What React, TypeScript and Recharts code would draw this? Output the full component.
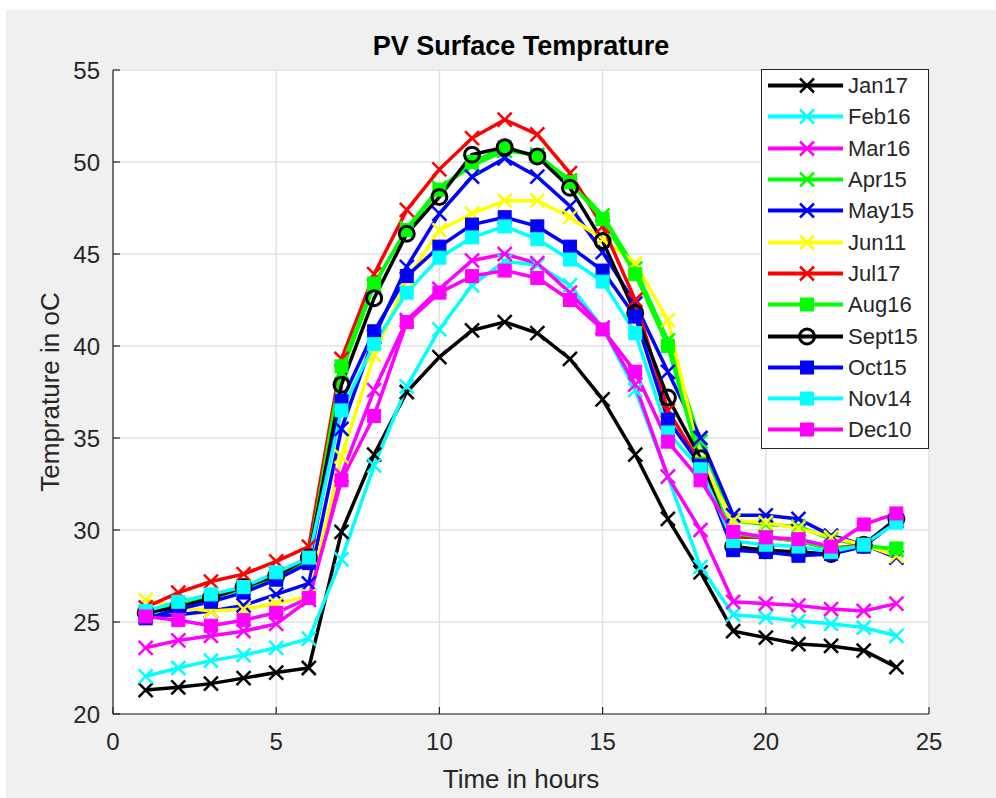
import React from 'react';
import { LineChart, Line, XAxis, YAxis, CartesianGrid, Legend, Label } from 'recharts';

const hours = [1, 2, 3, 4, 5, 6, 7, 8, 9, 10, 11, 12, 13, 14, 15, 16, 17, 18, 19, 20, 21, 22, 23, 24];

const jan17 = [21.3, 21.45, 21.65, 21.95, 22.25, 22.5, 29.9, 34.1, 37.5, 39.4, 40.85, 41.3, 40.7, 39.3, 37.1, 34.1, 30.6, 27.7, 24.5, 24.15, 23.8, 23.7, 23.45, 22.55];
const feb16 = [22.05, 22.5, 22.9, 23.2, 23.6, 24.1, 28.4, 33.5, 37.8, 40.9, 43.3, 44.6, 44.4, 43.3, 41.0, 37.6, 32.9, 28.0, 25.4, 25.25, 25.05, 24.9, 24.7, 24.25];
const mar16 = [23.6, 24.0, 24.25, 24.5, 24.9, 26.2, 33.0, 37.6, 41.4, 43.1, 44.65, 45.0, 44.5, 42.9, 41.0, 37.9, 32.9, 30.0, 26.1, 26.0, 25.9, 25.7, 25.6, 26.0];
const apr15 = [25.5, 25.9, 26.3, 26.8, 27.5, 28.4, 38.6, 43.3, 46.4, 48.6, 49.8, 50.6, 50.4, 49.0, 47.1, 44.2, 40.3, 34.8, 30.5, 30.3, 30.2, 29.5, 29.2, 28.9];
const may15 = [25.3, 25.4, 25.6, 25.9, 26.5, 27.1, 35.5, 40.5, 44.3, 47.2, 49.2, 50.2, 49.2, 47.6, 45.1, 42.3, 38.6, 35.0, 30.8, 30.8, 30.6, 29.7, 29.2, 28.5];
const jun11 = [26.2, 25.8, 25.6, 25.7, 26.0, 26.4, 34.0, 39.5, 43.6, 46.3, 47.2, 47.9, 47.9, 47.0, 45.8, 44.5, 41.4, 33.8, 30.5, 30.4, 30.1, 29.6, 29.2, 28.6];
const jul17 = [25.8, 26.6, 27.2, 27.6, 28.3, 29.1, 39.3, 43.9, 47.4, 49.6, 51.3, 52.3, 51.5, 49.4, 46.5, 42.5, 36.5, 33.6, 29.6, 29.6, 29.4, 29.0, 29.2, 30.5];
const aug16 = [25.5, 25.9, 26.3, 26.9, 27.5, 28.5, 38.9, 43.4, 46.3, 48.5, 50.0, 50.8, 50.3, 48.9, 46.9, 43.9, 40.0, 33.6, 29.8, 29.6, 29.4, 29.0, 29.1, 29.0];
const sept15 = [25.5, 25.8, 26.3, 26.9, 27.5, 28.5, 37.9, 42.6, 46.1, 48.1, 50.4, 50.8, 50.3, 48.6, 45.7, 41.8, 37.2, 33.9, 29.1, 28.9, 28.8, 28.7, 29.2, 30.6];
const oct15 = [25.2, 25.7, 26.1, 26.6, 27.3, 28.2, 37.0, 40.8, 43.8, 45.4, 46.6, 47.0, 46.5, 45.4, 44.1, 41.6, 36.0, 33.5, 28.9, 28.8, 28.6, 28.7, 29.1, 30.5];
const nov14 = [25.6, 26.1, 26.5, 26.9, 27.7, 28.5, 36.5, 40.1, 42.9, 44.8, 45.9, 46.5, 45.8, 44.7, 43.5, 40.7, 35.3, 33.3, 29.4, 29.2, 29.1, 28.8, 29.2, 30.4];
const dec10 = [25.3, 25.1, 24.8, 25.1, 25.5, 26.3, 32.7, 36.2, 41.3, 42.9, 43.8, 44.1, 43.7, 42.5, 40.9, 38.6, 34.8, 32.7, 29.9, 29.6, 29.5, 29.1, 30.3, 30.9];

const xTicks = [0, 5, 10, 15, 20, 25];
const yTicks = [20, 25, 30, 35, 40, 45, 50, 55];

type MarkerType = 'x' | 'o' | 's';

const series: { key: string; name: string; color: string; marker: MarkerType; values: number[] }[] = [
  { key: 'jan17', name: 'Jan17', color: '#000000', marker: 'x', values: jan17 },
  { key: 'feb16', name: 'Feb16', color: '#00ffff', marker: 'x', values: feb16 },
  { key: 'mar16', name: 'Mar16', color: '#ff00ff', marker: 'x', values: mar16 },
  { key: 'apr15', name: 'Apr15', color: '#00ff00', marker: 'x', values: apr15 },
  { key: 'may15', name: 'May15', color: '#0000ff', marker: 'x', values: may15 },
  { key: 'jun11', name: 'Jun11', color: '#ffff00', marker: 'x', values: jun11 },
  { key: 'jul17', name: 'Jul17', color: '#ff0000', marker: 'x', values: jul17 },
  { key: 'aug16', name: 'Aug16', color: '#00ff00', marker: 's', values: aug16 },
  { key: 'sept15', name: 'Sept15', color: '#000000', marker: 'o', values: sept15 },
  { key: 'oct15', name: 'Oct15', color: '#0000ff', marker: 's', values: oct15 },
  { key: 'nov14', name: 'Nov14', color: '#00ffff', marker: 's', values: nov14 },
  { key: 'dec10', name: 'Dec10', color: '#ff00ff', marker: 's', values: dec10 },
];

const data = hours.map((h, i) => {
  const row: Record<string, number> = { hour: h };
  series.forEach((s) => {
    row[s.key] = s.values[i];
  });
  return row;
});

const AXIS = '#262626';
const FONT = '"Liberation Sans", Arial, Helvetica, sans-serif';

const Marker = ({ type, cx, cy, color }: { type: MarkerType; cx: number; cy: number; color: string }) => {
  if (type === 'x') {
    return (
      <g>
        <line x1={cx - 7} y1={cy - 7} x2={cx + 7} y2={cy + 7} stroke={color} strokeWidth={2.5} />
        <line x1={cx - 7} y1={cy + 7} x2={cx + 7} y2={cy - 7} stroke={color} strokeWidth={2.5} />
      </g>
    );
  }
  if (type === 'o') {
    return <circle cx={cx} cy={cy} r={7.5} fill="none" stroke={color} strokeWidth={3} />;
  }
  return <rect x={cx - 6.5} y={cy - 6.5} width={13} height={13} fill={color} stroke={color} strokeWidth={1} />;
};

const YTitle = (props: any) => {
  const { viewBox, value } = props;
  const cx = viewBox.x + 37;
  const cy = viewBox.y + viewBox.height / 2;
  return (
    <text
      x={cx}
      y={cy}
      transform={`rotate(-90 ${cx} ${cy})`}
      textAnchor="middle"
      dominantBaseline="central"
      fontSize={26}
      fill={AXIS}
      fontFamily={FONT}
    >
      {value}
    </text>
  );
};

const LegendBox = () => (
  <div
    style={{
      width: 166,
      height: 378,
      border: `1px solid ${AXIS}`,
      background: '#fff',
      boxSizing: 'content-box',
    }}
  >
    {series.map((s) => (
      <div key={s.key} style={{ display: 'flex', alignItems: 'center', height: 31.3 }}>
        <svg width={86} height={31} style={{ display: 'block' }}>
          <line x1={6} y1={15.5} x2={81} y2={15.5} stroke={s.color} strokeWidth={4} />
          <Marker type={s.marker} cx={45} cy={15.5} color={s.color} />
        </svg>
        <span style={{ fontSize: 22, color: AXIS, fontFamily: FONT, lineHeight: '31px' }}>{s.name}</span>
      </div>
    ))}
  </div>
);

export default function App() {
  return (
    <div style={{ position: 'absolute', left: 0, top: 0, width: 996, height: 798, background: '#fff', fontFamily: FONT }}>
      <div style={{ position: 'absolute', left: 6, top: 10, right: 0, bottom: 0, background: '#f0f0f0' }} />
      <div
        style={{
          position: 'absolute',
          left: 113,
          width: 816,
          top: 30,
          textAlign: 'center',
          fontSize: 27,
          fontWeight: 'bold',
          lineHeight: '32px',
          color: '#000',
        }}
      >
        PV Surface Temprature
      </div>
      <div style={{ position: 'absolute', left: 0, top: 0 }}>
        <LineChart width={996} height={798} data={data} margin={{ top: 70, right: 67, left: 13, bottom: 0 }}>
          <CartesianGrid stroke="#e2e2e2" strokeWidth={1.5} fill="#ffffff" fillOpacity={1} />
          <XAxis
            dataKey="hour"
            type="number"
            domain={[0, 25]}
            ticks={xTicks}
            interval={0}
            height={84}
            tickSize={-7}
            tickMargin={26}
            axisLine={{ stroke: AXIS, strokeWidth: 1.2 }}
            tickLine={{ stroke: AXIS, strokeWidth: 1.2 }}
            tick={{ fill: AXIS, fontSize: 24, fontFamily: FONT }}
          >
            <Label value="Time in hours" position="insideBottom" offset={10} fill={AXIS} fontSize={26} fontFamily={FONT} />
          </XAxis>
          <XAxis
            xAxisId="top"
            orientation="top"
            type="number"
            domain={[0, 25]}
            ticks={xTicks}
            allowDataOverflow
            height={0}
            tick={false}
            tickSize={-7}
            axisLine={{ stroke: AXIS, strokeWidth: 1.2 }}
            tickLine={{ stroke: AXIS, strokeWidth: 1.2 }}
          />
          <YAxis
            type="number"
            domain={[20, 55]}
            ticks={yTicks}
            interval={0}
            width={100}
            tickSize={-7}
            tickMargin={20}
            axisLine={{ stroke: AXIS, strokeWidth: 1.2 }}
            tickLine={{ stroke: AXIS, strokeWidth: 1.2 }}
            tick={{ fill: AXIS, fontSize: 24, fontFamily: FONT }}
          >
            <Label value="Temprature in oC" content={YTitle} />
          </YAxis>
          <YAxis
            yAxisId="right"
            orientation="right"
            type="number"
            domain={[20, 55]}
            ticks={yTicks}
            allowDataOverflow
            width={0}
            tick={false}
            tickSize={-7}
            axisLine={{ stroke: AXIS, strokeWidth: 1.2 }}
            tickLine={{ stroke: AXIS, strokeWidth: 1.2 }}
          />
          <Legend
            layout="vertical"
            align="center"
            verticalAlign="middle"
            content={<LegendBox />}
            wrapperStyle={{ left: 761, top: 69, width: 168, height: 380 }}
          />
          {series.map((s) => (
            <Line
              key={s.key}
              type="linear"
              dataKey={s.key}
              name={s.name}
              stroke={s.color}
              strokeWidth={3.5}
              isAnimationActive={false}
              dot={(p: any) => <Marker key={`${s.key}-${p.index}`} type={s.marker} cx={p.cx} cy={p.cy} color={s.color} />}
              activeDot={false}
            />
          ))}
        </LineChart>
      </div>
    </div>
  );
}
